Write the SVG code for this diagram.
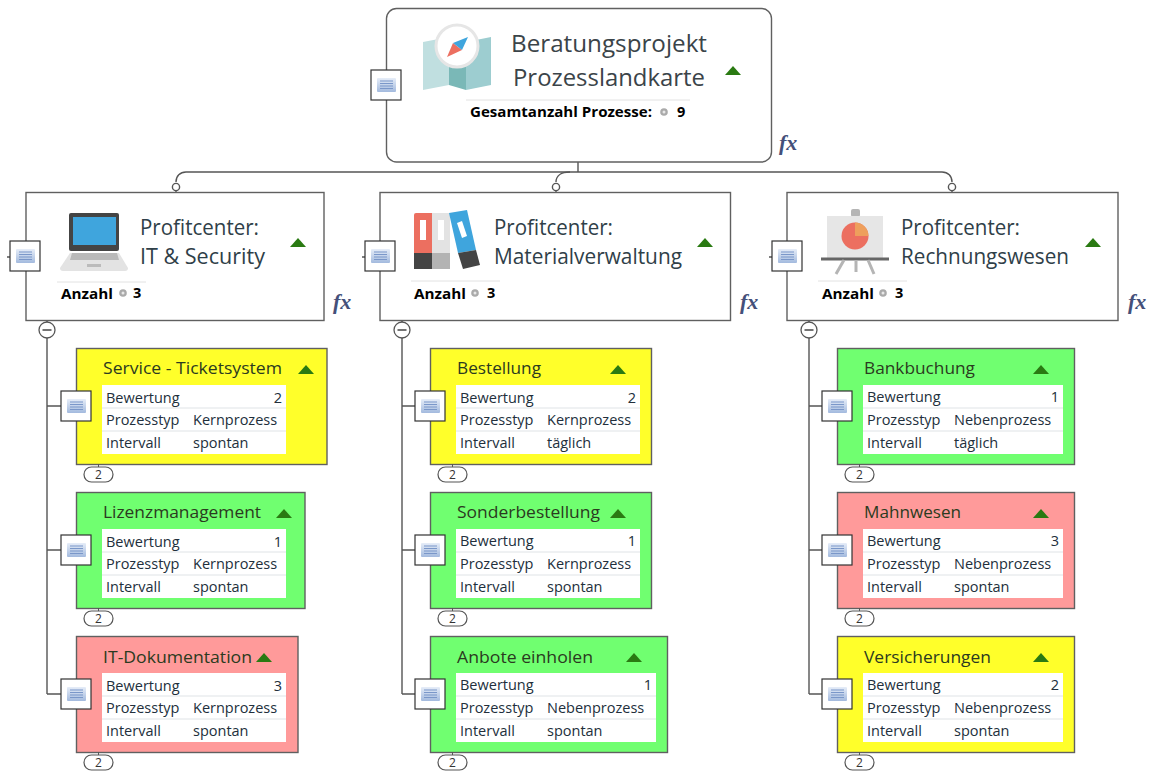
<svg xmlns="http://www.w3.org/2000/svg" width="1150" height="771" viewBox="0 0 1150 771">
<style>
text{font-family:"Open Sans","Noto Sans","Liberation Sans",sans-serif;fill:#1f2d33}
.box{stroke:#606060;stroke-width:1.4}
.conn{fill:none;stroke:#555;stroke-width:1.4}
.t1{font-size:24px;fill:#3b4449}
.t2{font-size:21px;fill:#2f4048}
.t3{font-size:17px;fill:#2b3a20}
.c{font-size:14.5px;fill:#222f3c}
.b{font-size:14.500px;font-weight:700;fill:#000}
.fx{font-family:"Liberation Serif",serif;font-style:italic;font-weight:700;font-size:22px;fill:#44507a}
.n{font-size:12px;fill:#333;text-anchor:middle}
.sep{stroke:#e2e2e2;stroke-width:1}
.rowl{stroke:#dfe3e6;stroke-width:1}
</style>
<defs>
<linearGradient id="ng" x1="0" y1="0" x2="0" y2="1"><stop offset="0" stop-color="#e6edf8"/><stop offset="1" stop-color="#a3bade"/></linearGradient>
<g id="note"><rect x="0" y="0" width="30" height="30" fill="#fff" stroke="#333" stroke-width="1.2"/><rect x="6" y="8" width="19" height="14" rx="1" fill="url(#ng)"/><path d="M9 11h13M9 13.500h13M9 16h13M9 18.500h13" stroke="#7a97c9" stroke-width="1" fill="none"/></g>
<path id="tri" d="M0 9 L8 0 L16 9Z" fill="#2a7a12"/>
<g id="gear"><circle cx="0" cy="0" r="3.800" fill="#aaa"/><circle cx="0" cy="0" r="1.500" fill="#e8e8e8"/></g>
<g id="badge"><path d="M14.500 -3V0" stroke="#555" fill="none"/><rect x="0" y="0" width="29" height="15" rx="7.500" fill="#fff" stroke="#555" stroke-width="1.200"/><text class="n" x="14.500" y="12">2</text></g>
<g id="minus"><circle cx="0" cy="0" r="8" fill="#fff" stroke="#555" stroke-width="1.300"/><path d="M-4.500 0h9" stroke="#444" stroke-width="1.500"/></g>
</defs>
<rect width="1150" height="771" fill="#fff"/>
<g id="connectors" class="conn">
<path d="M578 162V172"/>
<path d="M186 172H942C948 172 952 176 952 182"/>
<path d="M186 172C180 172 176 176 176 182"/>
<path d="M570 172C561 172 556 176 556 182"/>
<path d="M176 190V193M556 190V193M952 190V193"/>
<circle cx="176" cy="187" r="3.600" fill="#fff"/><circle cx="556" cy="187" r="3.600" fill="#fff"/><circle cx="952" cy="187" r="3.600" fill="#fff"/>
<path d="M47 320V694M47 406H61M47 550H61M47 694H61"/>
<path d="M402 320V694M402 406H415M402 550H415M402 694H415"/>
<path d="M809 320V694M809 406H822M809 550H822M809 694H822"/>
<path d="M7 257H10M362 257H365M769 257H772"/>
</g>
<g id="root">
<rect class="box" x="386.500" y="8.500" width="385" height="153.500" rx="10" fill="#fff"/>
<path d="M449 37L466 42V90L449 85Z" fill="#7ab8b7"/><path d="M423 42L449 37V85L423 90Z" fill="#c0dfe0"/><path d="M466 42L491 37V85L466 90Z" fill="#9dcdd0"/>
<circle cx="457" cy="46" r="21" fill="#fff" stroke="#e6e6e6" stroke-width="3"/>
<path d="M447 57L453 43L462 50Z" fill="#ec6f60"/><path d="M468 37L453 43L462 50Z" fill="#3fa5dd"/>
<text class="t1" x="511" y="52" textLength="196" lengthAdjust="spacingAndGlyphs">Beratungsprojekt</text>
<text class="t1" x="513" y="86" textLength="192" lengthAdjust="spacingAndGlyphs">Prozesslandkarte</text>
<use href="#tri" x="725" y="66"/>
<path class="sep" d="M466 100H690"/>
<text class="b" x="470" y="117" textLength="182" lengthAdjust="spacingAndGlyphs">Gesamtanzahl Prozesse:</text>
<use href="#gear" x="664" y="112"/>
<text class="b" x="677" y="117">9</text>
<text class="fx" x="779" y="150">fx</text>
<use href="#note" x="371" y="70"/>
</g>
<g id="pc1">
<rect class="box" x="26" y="192.500" width="298" height="128" fill="#fff"/>
<rect x="69" y="213" width="50" height="38" rx="2" fill="#444"/><rect x="73" y="217" width="43" height="28" fill="#3fa5dd"/>
<path d="M70 253H119L128 268Q128 271 125 271H63Q60 271 60 268Z" fill="#e3e3e3"/><path d="M72 253H117L119 260H70Z" fill="#b9b9b9"/><rect x="87" y="264" width="14" height="3" fill="#bbb"/>
<text class="t2" x="140" y="235" textLength="119" lengthAdjust="spacingAndGlyphs">Profitcenter:</text>
<text class="t2" x="140" y="264" textLength="125" lengthAdjust="spacingAndGlyphs">IT &amp; Security</text>
<use href="#tri" x="290" y="238"/>
<path class="sep" d="M57 282H146"/>
<text class="b" x="61" y="299" textLength="52" lengthAdjust="spacingAndGlyphs">Anzahl</text><use href="#gear" x="123" y="293"/><text class="b" x="133" y="298">3</text>
<text class="fx" x="333" y="309">fx</text>
<use href="#note" x="10" y="241"/><use href="#minus" x="47" y="330"/>
</g>
<g id="pc2">
<rect class="box" x="380" y="192.500" width="350.500" height="128" fill="#fff"/>
<path d="M414 255V215Q414 213 416 213H432V255Z" fill="#ec6f60"/><rect x="414" y="253" width="18" height="16" fill="#444"/>
<rect x="432" y="213" width="18" height="42" fill="#e3e3e3"/><rect x="432" y="253" width="18" height="16" fill="#b3b3b3"/>
<path d="M449 213L467 210L476 250L458 253Z" fill="#3fa5dd"/><path d="M458 253L476 250L480 265L463 269Z" fill="#444"/>
<rect x="420" y="220" width="6" height="20" fill="#fff"/><rect x="438" y="220" width="6" height="20" fill="#fff"/><path d="M457 223L462 221L467 236L462 238Z" fill="#fff"/>
<text class="t2" x="494" y="235" textLength="119" lengthAdjust="spacingAndGlyphs">Profitcenter:</text>
<text class="t2" x="494" y="264" textLength="188" lengthAdjust="spacingAndGlyphs">Materialverwaltung</text>
<use href="#tri" x="697" y="238"/>
<path class="sep" d="M411 281H500"/>
<text class="b" x="414" y="299" textLength="52" lengthAdjust="spacingAndGlyphs">Anzahl</text><use href="#gear" x="475" y="293"/><text class="b" x="487" y="298">3</text>
<text class="fx" x="740" y="309">fx</text>
<use href="#note" x="365" y="241"/><use href="#minus" x="402" y="330"/>
</g>
<g id="pc3">
<rect class="box" x="787" y="192.500" width="331" height="128" fill="#fff"/>
<rect x="851" y="209" width="9" height="8" rx="2" fill="#b5b5b5"/><rect x="827" y="216" width="56" height="43" fill="#e6e6e6"/>
<path d="M821 259H889" stroke="#666" stroke-width="3"/><path d="M856 260V272M844 260L836 274M868 260L874 274" stroke="#b5b5b5" stroke-width="3" fill="none"/>
<circle cx="855" cy="236" r="13.500" fill="#ec6f60"/><path d="M855 222.500A13.500 13.500 0 0 1 868.500 236H855Z" fill="#ee9f5c"/>
<text class="t2" x="901" y="235" textLength="119" lengthAdjust="spacingAndGlyphs">Profitcenter:</text>
<text class="t2" x="901" y="264" textLength="168" lengthAdjust="spacingAndGlyphs">Rechnungswesen</text>
<use href="#tri" x="1085" y="238"/>
<path class="sep" d="M818 281H907"/>
<text class="b" x="822" y="299" textLength="52" lengthAdjust="spacingAndGlyphs">Anzahl</text><use href="#gear" x="883" y="293"/><text class="b" x="895" y="298">3</text>
<text class="fx" x="1128" y="309">fx</text>
<use href="#note" x="772" y="241"/><use href="#minus" x="809" y="330"/>
</g>
<g id="n1">
<rect class="box" x="76.500" y="348.500" width="250.500" height="116" fill="#ffff2a"/>
<text class="t3" x="103" y="374" textLength="179" lengthAdjust="spacingAndGlyphs">Service - Ticketsystem</text><use href="#tri" x="298" y="365"/>
<rect x="102" y="385" width="184" height="69" fill="#fff"/><path class="rowl" d="M102 408H286M102 431H286"/>
<text class="c" x="106" y="403">Bewertung</text><text class="c" x="282" y="403" text-anchor="end">2</text>
<text class="c" x="106" y="425">Prozesstyp</text><text class="c" x="193" y="425">Kernprozess</text>
<text class="c" x="106" y="448">Intervall</text><text class="c" x="193" y="448">spontan</text>
<use href="#note" x="61" y="391"/><use href="#badge" x="84" y="467"/>
</g>
<g id="n2">
<rect class="box" x="76.500" y="492.500" width="228.500" height="116" fill="#70ff70"/>
<text class="t3" x="103" y="518" textLength="158" lengthAdjust="spacingAndGlyphs">Lizenzmanagement</text><use href="#tri" x="276" y="509"/>
<rect x="102" y="529" width="184" height="69" fill="#fff"/><path class="rowl" d="M102 552H286M102 575H286"/>
<text class="c" x="106" y="547">Bewertung</text><text class="c" x="282" y="547" text-anchor="end">1</text>
<text class="c" x="106" y="569">Prozesstyp</text><text class="c" x="193" y="569">Kernprozess</text>
<text class="c" x="106" y="592">Intervall</text><text class="c" x="193" y="592">spontan</text>
<use href="#note" x="61" y="535"/><use href="#badge" x="84" y="611"/>
</g>
<g id="n3">
<rect class="box" x="76.500" y="636.500" width="221.500" height="116" fill="#ff9a9a"/>
<text class="t3" x="103" y="663" textLength="149" lengthAdjust="spacingAndGlyphs">IT-Dokumentation</text><use href="#tri" x="256" y="653"/>
<rect x="102" y="673" width="184" height="69" fill="#fff"/><path class="rowl" d="M102 696H286M102 719H286"/>
<text class="c" x="106" y="691">Bewertung</text><text class="c" x="282" y="691" text-anchor="end">3</text>
<text class="c" x="106" y="713">Prozesstyp</text><text class="c" x="193" y="713">Kernprozess</text>
<text class="c" x="106" y="736">Intervall</text><text class="c" x="193" y="736">spontan</text>
<use href="#note" x="61" y="679"/><use href="#badge" x="84" y="755"/>
</g>
<g id="n4">
<rect class="box" x="430.500" y="348.500" width="221" height="116" fill="#ffff2a"/>
<text class="t3" x="457" y="374" textLength="84" lengthAdjust="spacingAndGlyphs">Bestellung</text><use href="#tri" x="610" y="365"/>
<rect x="456" y="385" width="184" height="69" fill="#fff"/><path class="rowl" d="M456 408H640M456 431H640"/>
<text class="c" x="460" y="403">Bewertung</text><text class="c" x="636" y="403" text-anchor="end">2</text>
<text class="c" x="460" y="425">Prozesstyp</text><text class="c" x="547" y="425">Kernprozess</text>
<text class="c" x="460" y="448">Intervall</text><text class="c" x="547" y="448">täglich</text>
<use href="#note" x="415" y="391"/><use href="#badge" x="438" y="467"/>
</g>
<g id="n5">
<rect class="box" x="430.500" y="492.500" width="221" height="116" fill="#70ff70"/>
<text class="t3" x="457" y="518" textLength="143" lengthAdjust="spacingAndGlyphs">Sonderbestellung</text><use href="#tri" x="610" y="509"/>
<rect x="456" y="529" width="184" height="69" fill="#fff"/><path class="rowl" d="M456 552H640M456 575H640"/>
<text class="c" x="460" y="546">Bewertung</text><text class="c" x="636" y="546" text-anchor="end">1</text>
<text class="c" x="460" y="569">Prozesstyp</text><text class="c" x="547" y="569">Kernprozess</text>
<text class="c" x="460" y="592">Intervall</text><text class="c" x="547" y="592">spontan</text>
<use href="#note" x="415" y="535"/><use href="#badge" x="438" y="611"/>
</g>
<g id="n6">
<rect class="box" x="430.500" y="636.500" width="237" height="116" fill="#70ff70"/>
<text class="t3" x="457" y="663" textLength="136" lengthAdjust="spacingAndGlyphs">Anbote einholen</text><use href="#tri" x="626" y="653"/>
<rect x="456" y="673" width="200" height="69" fill="#fff"/><path class="rowl" d="M456 696H656M456 719H656"/>
<text class="c" x="460" y="690">Bewertung</text><text class="c" x="652" y="690" text-anchor="end">1</text>
<text class="c" x="460" y="713">Prozesstyp</text><text class="c" x="547" y="713">Nebenprozess</text>
<text class="c" x="460" y="736">Intervall</text><text class="c" x="547" y="736">spontan</text>
<use href="#note" x="415" y="679"/><use href="#badge" x="438" y="755"/>
</g>
<g id="n7">
<rect class="box" x="837.500" y="348.500" width="237" height="116" fill="#70ff70"/>
<text class="t3" x="864" y="374" textLength="111" lengthAdjust="spacingAndGlyphs">Bankbuchung</text><use href="#tri" x="1033" y="365"/>
<rect x="863" y="385" width="200" height="69" fill="#fff"/><path class="rowl" d="M863 408H1063M863 431H1063"/>
<text class="c" x="867" y="402">Bewertung</text><text class="c" x="1059" y="402" text-anchor="end">1</text>
<text class="c" x="867" y="425">Prozesstyp</text><text class="c" x="954" y="425">Nebenprozess</text>
<text class="c" x="867" y="448">Intervall</text><text class="c" x="954" y="448">täglich</text>
<use href="#note" x="822" y="391"/><use href="#badge" x="845" y="467"/>
</g>
<g id="n8">
<rect class="box" x="837.500" y="492.500" width="237" height="116" fill="#ff9a9a"/>
<text class="t3" x="864" y="518" textLength="97" lengthAdjust="spacingAndGlyphs">Mahnwesen</text><use href="#tri" x="1033" y="509"/>
<rect x="863" y="529" width="200" height="69" fill="#fff"/><path class="rowl" d="M863 552H1063M863 575H1063"/>
<text class="c" x="867" y="546">Bewertung</text><text class="c" x="1059" y="546" text-anchor="end">3</text>
<text class="c" x="867" y="569">Prozesstyp</text><text class="c" x="954" y="569">Nebenprozess</text>
<text class="c" x="867" y="592">Intervall</text><text class="c" x="954" y="592">spontan</text>
<use href="#note" x="822" y="535"/><use href="#badge" x="845" y="611"/>
</g>
<g id="n9">
<rect class="box" x="837.500" y="636.500" width="237" height="116" fill="#ffff2a"/>
<text class="t3" x="864" y="663" textLength="127" lengthAdjust="spacingAndGlyphs">Versicherungen</text><use href="#tri" x="1033" y="653"/>
<rect x="863" y="673" width="200" height="69" fill="#fff"/><path class="rowl" d="M863 696H1063M863 719H1063"/>
<text class="c" x="867" y="690">Bewertung</text><text class="c" x="1059" y="690" text-anchor="end">2</text>
<text class="c" x="867" y="713">Prozesstyp</text><text class="c" x="954" y="713">Nebenprozess</text>
<text class="c" x="867" y="736">Intervall</text><text class="c" x="954" y="736">spontan</text>
<use href="#note" x="822" y="679"/><use href="#badge" x="845" y="755"/>
</g>
</svg>
